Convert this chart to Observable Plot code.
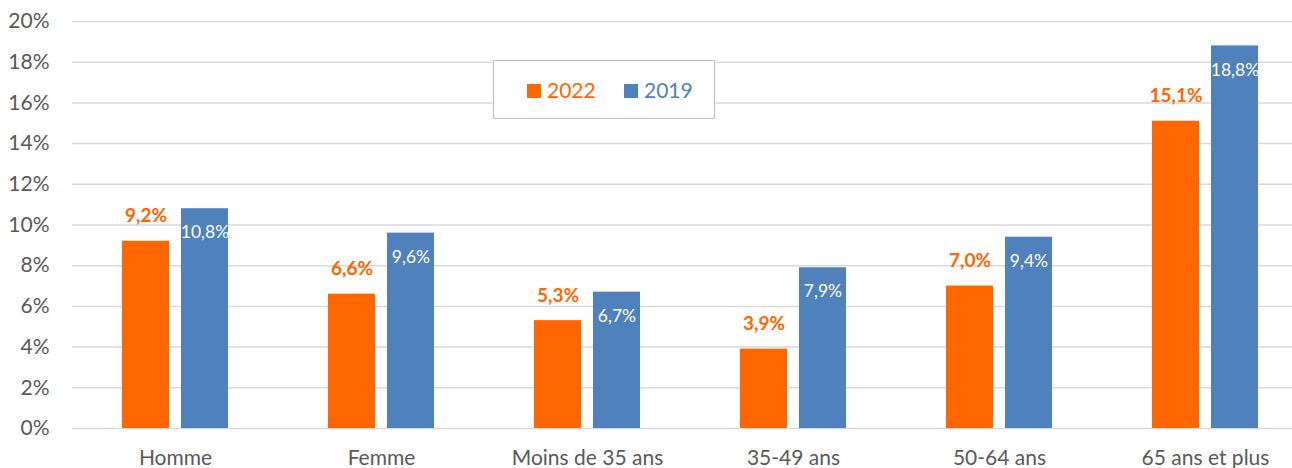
<!DOCTYPE html>
<html><head><meta charset="utf-8">
<script src="https://cdn.jsdelivr.net/npm/d3@7"></script>
<script src="https://cdn.jsdelivr.net/npm/@observablehq/plot@0.6"></script>
<style>
body{margin:0;background:#fff;overflow:hidden;}
#wrap{position:relative;width:1292px;height:468px;overflow:hidden;font-family:Lato,"Open Sans",sans-serif;}
#legend{position:absolute;left:493px;top:60px;width:220px;height:57px;border:1.5px solid #bfbfbf;background:#fff;box-sizing:content-box;}
.item{position:absolute;top:16px;font-size:21px;line-height:26px;}
.sw{display:inline-block;width:14px;height:14px;margin-right:6px;vertical-align:0px;}
</style></head>
<body><div id="wrap"><div id="legend"></div></div>
<script>
const categories = ["Homme","Femme","Moins de 35 ans","35-49 ans","50-64 ans","65 ans et plus"];
const series = ["2022","2019"];
const v2022 = [9.2,6.6,5.3,3.9,7.0,15.1];
const v2019 = [10.8,9.6,6.7,7.9,9.4,18.8];
const colors = ["#FF6600","#4F81BD"];
const yTicks = [0,2,4,6,8,10,12,14,16,18,20];

const data = categories.flatMap((c,i)=>[
  {cat:c, serie:series[0], value:v2022[i]},
  {cat:c, serie:series[1], value:v2019[i]}
]);
const fmt = d => d.value.toFixed(1).replace(".", ",") + "%";

const chart = Plot.plot({
  width:1292, height:468,
  marginLeft:72, marginRight:2, marginTop:21, marginBottom:40,
  style:{fontFamily:"Lato, 'Open Sans', sans-serif", fontSize:"21px", color:"#595959", background:"#fff", overflow:"hidden"},
  fx:{domain:categories, range:[72,1308], padding:0, label:null, axis:"bottom", tickSize:0, tickPadding:22},
  x:{domain:series, paddingInner:0.21, paddingOuter:0.85, axis:null},
  y:{domain:[0,20], ticks:yTicks, tickFormat:d=>d+"%", label:null, tickSize:0, tickPadding:23},
  color:{domain:series, range:colors},
  marks:[
    Plot.gridY(yTicks, {stroke:"#d9d9d9", strokeOpacity:1, strokeWidth:1.5}),
    Plot.barY(data, {fx:"cat", x:"serie", y:"value", fill:"serie"}),
    Plot.text(data.filter(d=>d.serie===series[0]), {fx:"cat", x:"serie", y:"value", text:fmt, dy:-25, fill:colors[0], fontWeight:"bold", fontSize:19}),
    Plot.text(data.filter(d=>d.serie===series[1]), {fx:"cat", x:"serie", y:"value", text:fmt, dy:24, fill:"white", fontSize:17.5})
  ]
});
const wrap = document.getElementById("wrap");
wrap.insertBefore(chart, wrap.firstChild);

const legend = document.getElementById("legend");
const pos = [33, 130];
series.forEach((s,i)=>{
  const it = document.createElement("div");
  it.className = "item";
  it.style.left = pos[i] + "px";
  it.style.color = colors[i];
  it.innerHTML = `<span class="sw" style="background:${colors[i]}"></span>${s}`;
  legend.appendChild(it);
});
</script></body></html>
